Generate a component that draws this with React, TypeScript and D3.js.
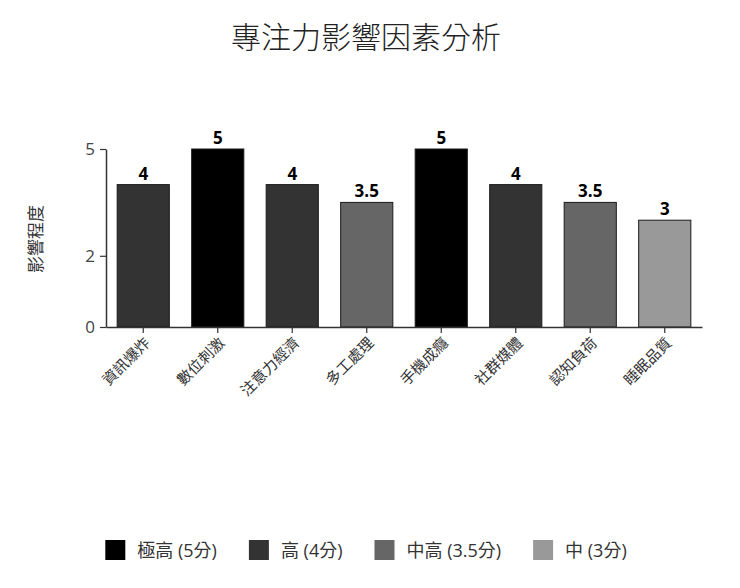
import React, { useEffect, useRef } from 'react';
import * as d3 from 'd3';

const categories = ['資訊爆炸', '數位刺激', '注意力經濟', '多工處理', '手機成癮', '社群媒體', '認知負荷', '睡眠品質'];
const values = [4, 5, 4, 3.5, 5, 4, 3.5, 3];
const yTicks = [0, 2, 5];
const levelValues = [5, 4, 3.5, 3];
const levelColors = ['#000000', '#333333', '#666666', '#999999'];
const levelLabels = ['極高 (5分)', '高 (4分)', '中高 (3.5分)', '中 (3分)'];

const W = 740;
const H = 588;
const M = { left: 106, right: 38, top: 149, bottom: 261 };
const FONT = '"Open Sans", "Noto Sans CJK TC", sans-serif';
const CJK = '"Noto Sans CJK TC", sans-serif';

export default function App() {
  const ref = useRef<SVGSVGElement>(null);

  useEffect(() => {
    document.body.style.margin = '0';
    if (!ref.current) return;
    const svg = d3.select(ref.current);
    svg.selectAll('*').remove();

    const x = d3
      .scaleBand<string>()
      .domain(categories)
      .range([M.left, W - M.right])
      .paddingInner(0.3)
      .paddingOuter(0.15);
    const y = d3.scaleLinear().domain([0, 5]).range([H - M.bottom, M.top]);
    const color = d3.scaleOrdinal<number, string>().domain(levelValues).range(levelColors);

    // title
    svg
      .append('text')
      .attr('x', 366)
      .attr('y', 48)
      .attr('text-anchor', 'middle')
      .attr('font-family', CJK)
      .attr('font-weight', 300)
      .attr('font-size', 30)
      .attr('fill', '#222')
      .text('專注力影響因素分析');

    // bars
    svg
      .append('g')
      .selectAll('rect')
      .data(values)
      .join('rect')
      .attr('x', (_, i) => x(categories[i])!)
      .attr('y', (d) => y(d))
      .attr('width', x.bandwidth())
      .attr('height', (d) => y(0) - y(d))
      .attr('fill', (d) => color(d))
      .attr('stroke', '#1a1a1a')
      .attr('stroke-width', 1);

    // value labels
    svg
      .append('g')
      .selectAll('text')
      .data(values)
      .join('text')
      .attr('x', (_, i) => x(categories[i])! + x.bandwidth() / 2)
      .attr('y', (d) => y(d) - 5)
      .attr('text-anchor', 'middle')
      .attr('font-family', FONT)
      .attr('font-weight', 'bold')
      .attr('font-size', 17)
      .attr('fill', '#000')
      .text((d) => String(d));

    // y axis
    const yAxis = svg
      .append('g')
      .attr('transform', `translate(${M.left},0)`)
      .call(
        d3
          .axisLeft(y)
          .tickValues(yTicks)
          .tickFormat(d3.format('d'))
          .tickSize(6)
          .tickPadding(5)
          .tickSizeOuter(0)
      );
    yAxis.select('.domain').attr('stroke', '#333').attr('stroke-width', 1.5);
    yAxis.selectAll('.tick line').attr('stroke', '#333').attr('stroke-width', 1.2);
    yAxis
      .selectAll('.tick text')
      .attr('font-family', FONT)
      .attr('font-size', 17)
      .attr('fill', '#444');

    // x axis
    const xAxis = svg
      .append('g')
      .attr('transform', `translate(0,${y(0)})`)
      .call(d3.axisBottom(x).tickSize(6).tickSizeOuter(0));
    xAxis.select('.domain').attr('stroke', '#333').attr('stroke-width', 1.5);
    xAxis.selectAll('.tick line').attr('stroke', '#333').attr('stroke-width', 1.2);
    xAxis
      .selectAll('.tick text')
      .attr('font-family', CJK)
      .attr('font-size', 15)
      .attr('fill', '#333')
      .attr('text-anchor', 'end')
      .attr('dy', null)
      .attr('y', null)
      .attr('dominant-baseline', 'middle')
      .attr('transform', 'translate(5,14) rotate(-45)');

    // y axis title
    svg
      .append('text')
      .attr('transform', `translate(37,239) rotate(-90)`)
      .attr('text-anchor', 'middle')
      .attr('dominant-baseline', 'middle')
      .attr('font-family', CJK)
      .attr('font-size', 17)
      .attr('fill', '#333')
      .text('影響程度');

    // legend
    const legend = svg.append('g');
    const items = legend
      .selectAll('g')
      .data(levelLabels)
      .join('g');
    items
      .append('rect')
      .attr('width', 20)
      .attr('height', 20)
      .attr('y', 540)
      .attr('fill', (_, i) => levelColors[i]);
    items
      .append('text')
      .attr('x', 32)
      .attr('y', 550)
      .attr('dominant-baseline', 'central')
      .attr('font-family', FONT)
      .attr('font-size', 18)
      .attr('fill', '#333')
      .text((d) => d);
    let offset = 0;
    const widths: number[] = [];
    items.each(function () {
      const t = d3.select(this).select('text').node() as SVGTextElement;
      widths.push(32 + t.getComputedTextLength());
    });
    const gap = 32;
    const total = d3.sum(widths) + gap * (widths.length - 1);
    const start = 366 - total / 2;
    items.attr('transform', (_, i) => {
      const tx = start + offset;
      offset += widths[i] + gap;
      return `translate(${tx},0)`;
    });
  }, []);

  return <svg ref={ref} width={W} height={H} style={{ display: 'block', background: '#fff' }} />;
}
